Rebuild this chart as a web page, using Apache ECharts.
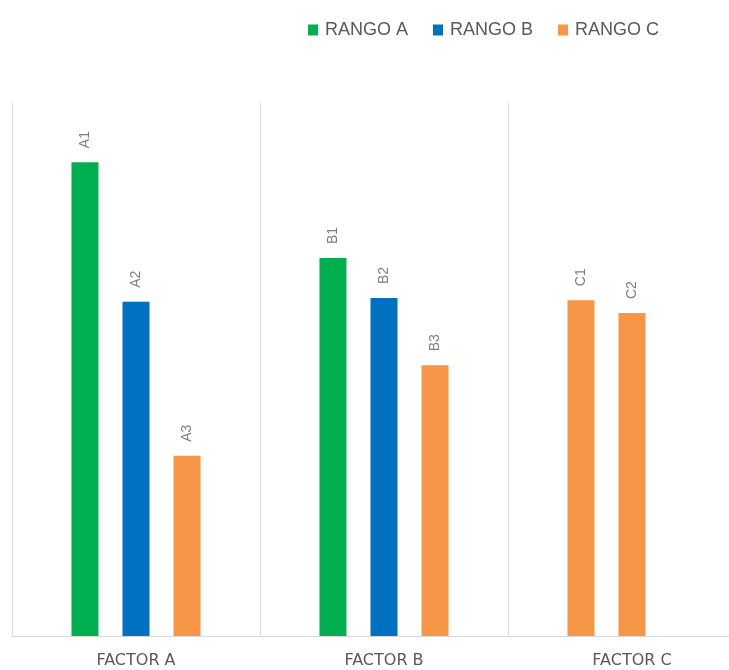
<!DOCTYPE html>
<html>
<head>
<meta charset="utf-8">
<script src="https://cdn.jsdelivr.net/npm/echarts@6/dist/echarts.min.js"></script>
<style>
  html, body { margin: 0; padding: 0; background: #ffffff; overflow: hidden; }
  #chart { width: 729px; height: 670px; }
</style>
</head>
<body>
<div id="chart"></div>
<script>
// Factor groups along the x axis
var categories = ['FACTOR A', 'FACTOR B', 'FACTOR C'];

// Legend entries / series names
var seriesNames = ['RANGO A', 'RANGO B', 'RANGO C'];

// Bar heights per series slot (first, second, third bar in each factor)
var slot1Values = [88.9, 70.9, 63.0];
var slot2Values = [62.7, 63.4, 60.6];
var slot3Values = [33.8, 50.8, null];

// Text drawn above each bar
var slot1Labels = ['A1', 'B1', 'C1'];
var slot2Labels = ['A2', 'B2', 'C2'];
var slot3Labels = ['A3', 'B3', ''];

var GREEN = '#00b050';
var BLUE = '#0070c0';
var ORANGE = '#f79646';
var seriesColors = [GREEN, BLUE, ORANGE];

// Which bars take a colour other than their series colour
var slotOverrides = [
  [null, null, ORANGE],
  [null, null, ORANGE],
  [null, null, null]
];

var slotValues = [slot1Values, slot2Values, slot3Values];
var slotLabels = [slot1Labels, slot2Labels, slot3Labels];

function buildSeries(i) {
  return {
    name: seriesNames[i],
    type: 'bar',
    barWidth: 27,
    barGap: '89%',
    itemStyle: { color: seriesColors[i] },
    data: slotValues[i].map(function (v, j) {
      var item = { value: v };
      if (slotOverrides[i][j]) item.itemStyle = { color: slotOverrides[i][j] };
      return item;
    }),
    label: {
      show: true,
      position: 'top',
      rotate: 90,
      align: 'left',
      verticalAlign: 'middle',
      distance: 14,
      color: '#7f7f7f',
      fontFamily: 'Liberation Sans, sans-serif',
      fontSize: 14,
      formatter: function (p) { return slotLabels[i][p.dataIndex]; }
    }
  };
}

var chart = echarts.init(document.getElementById('chart'), null, { renderer: 'canvas' });
chart.setOption({
  animation: false,
  backgroundColor: '#ffffff',
  legend: {
    top: 16,
    left: 303,
    itemWidth: 10,
    itemHeight: 11,
    itemGap: 25,
    icon: 'rect',
    textStyle: {
      color: '#595959',
      fontSize: 18,
      fontFamily: 'Liberation Sans, sans-serif',
      padding: [0, 0, 0, 2]
    },
    data: seriesNames
  },
  grid: {
    left: 12,
    width: 744,
    top: 103,
    bottom: 34,
    containLabel: false,
    outerBoundsMode: 'none'
  },
  xAxis: {
    type: 'category',
    data: categories,
    boundaryGap: true,
    axisLine: { show: true, lineStyle: { color: '#d9d9d9', width: 1 } },
    axisTick: { show: false },
    splitLine: { show: true, lineStyle: { color: '#d9d9d9', width: 1 } },
    axisLabel: {
      color: '#595959',
      fontSize: 16,
      margin: 17,
      fontFamily: 'DejaVu Sans, sans-serif'
    }
  },
  yAxis: {
    type: 'value',
    min: 0,
    max: 100,
    show: false,
    splitLine: { show: false }
  },
  series: [buildSeries(0), buildSeries(1), buildSeries(2)]
});
</script>
</body>
</html>
